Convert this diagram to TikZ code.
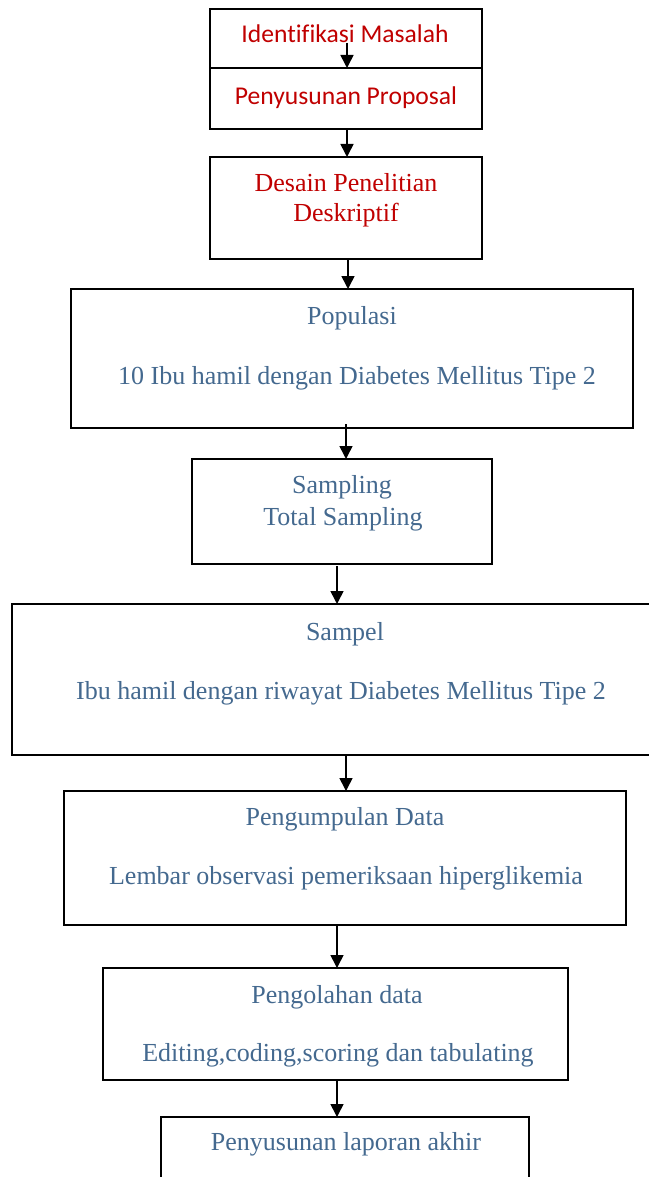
\documentclass[tikz,border=0pt]{standalone}
\usepackage{fontspec}
\setmainfont{Liberation Serif}
\newfontfamily\calibrifont[Ligatures=NoCommon]{Carlito}
\usetikzlibrary{arrows.meta}
\definecolor{txtred}{HTML}{C00000}
\definecolor{txtblue}{HTML}{44698F}
\tikzset{
  box/.style={draw=black, line width=1.4pt, rectangle, inner sep=0pt, outer sep=0pt, fill=none},
  arr/.style={line width=1.6pt, -{Triangle[width=13pt,length=13pt]}},
  redcal/.style={text=txtred, font=\calibrifont\fontsize{25.6}{30}\selectfont, anchor=base, inner sep=0pt},
  redser/.style={text=txtred, font=\fontsize{26}{30}\selectfont, anchor=base, inner sep=0pt},
  bluetxt/.style={text=txtblue, font=\fontsize{26}{30}\selectfont, anchor=base, inner sep=0pt}
}
\begin{document}
\begin{tikzpicture}[x=1pt,y=-1pt]
\useasboundingbox (0,0) rectangle (648,1177);
% boxes
\node[box, minimum width=272pt, minimum height=59pt] (b1) at (346,38.5) {};
\node[box, minimum width=272pt, minimum height=61pt] (b2) at (346,98.5) {};
\node[box, minimum width=272pt, minimum height=102pt] (b3) at (346,208) {};
\node[box, minimum width=562pt, minimum height=139pt] (b4) at (352,358.5) {};
\node[box, minimum width=300pt, minimum height=105pt] (b5) at (342,511.5) {};
\node[box, minimum width=658pt, minimum height=151pt] (b6) at (341,679.5) {};
\node[box, minimum width=562pt, minimum height=134pt] (b7) at (345,858) {};
\node[box, minimum width=465pt, minimum height=112pt] (b8) at (335.5,1024) {};
\node[box, minimum width=368pt, minimum height=83pt] (b9) at (345,1158.5) {};
% texts
\node[redcal] (t1) at (345,43) {Identifikasi Masalah};
\node[redcal] (t2) at (346,105) {Penyusunan Proposal};
\node[redser] (t3a) at (346,192) {Desain Penelitian};
\node[redser] (t3b) at (346,221) {Deskriptif};
\node[bluetxt] (t4a) at (352,324.5) {Populasi};
\node[bluetxt] (t4b) at (357,384.5) {10 Ibu hamil dengan Diabetes Mellitus Tipe 2};
\node[bluetxt] (t5a) at (342,493.5) {Sampling};
\node[bluetxt] (t5b) at (343,525.5) {Total Sampling};
\node[bluetxt] (t6a) at (345,640.5) {Sampel};
\node[bluetxt] (t6b) at (341,699.5) {Ibu hamil dengan riwayat Diabetes Mellitus Tipe 2};
\node[bluetxt] (t7a) at (345,825.5) {Pengumpulan Data};
\node[bluetxt] (t7b) at (346,884.5) {Lembar observasi pemeriksaan hiperglikemia};
\node[bluetxt] (t8a) at (337,1003.5) {Pengolahan data};
\node[bluetxt] (t8b) at (338,1061.5) {Editing,coding,scoring dan tabulating};
\node[bluetxt] (t9) at (346,1150.5) {Penyusunan laporan akhir};
% arrow start points
\coordinate (s1) at ([xshift=1pt,yshift=25pt]b1.south);
\coordinate (s2) at ([xshift=1pt]b2.south);
\coordinate (s3) at ([xshift=2pt]b3.south);
\coordinate (s4) at ([xshift=-6pt,yshift=4pt]b4.south);
\coordinate (s5) at ([xshift=-5pt,yshift=-2pt]b5.south);
\coordinate (s6) at ([xshift=5pt]b6.south);
\coordinate (s7) at ([xshift=-8pt]b7.south);
\coordinate (s8) at ([xshift=1.5pt]b8.south);
% arrows
\draw[arr] (s1) -- (s1 |- b2.north);
\draw[arr] (s2) -- (s2 |- b3.north);
\draw[arr] (s3) -- (s3 |- b4.north);
\draw[arr] (s4) -- (s4 |- b5.north);
\draw[arr] (s5) -- (s5 |- b6.north);
\draw[arr] (s6) -- (s6 |- b7.north);
\draw[arr] (s7) -- (s7 |- b8.north);
\draw[arr] (s8) -- (s8 |- b9.north);
\end{tikzpicture}
\end{document}
